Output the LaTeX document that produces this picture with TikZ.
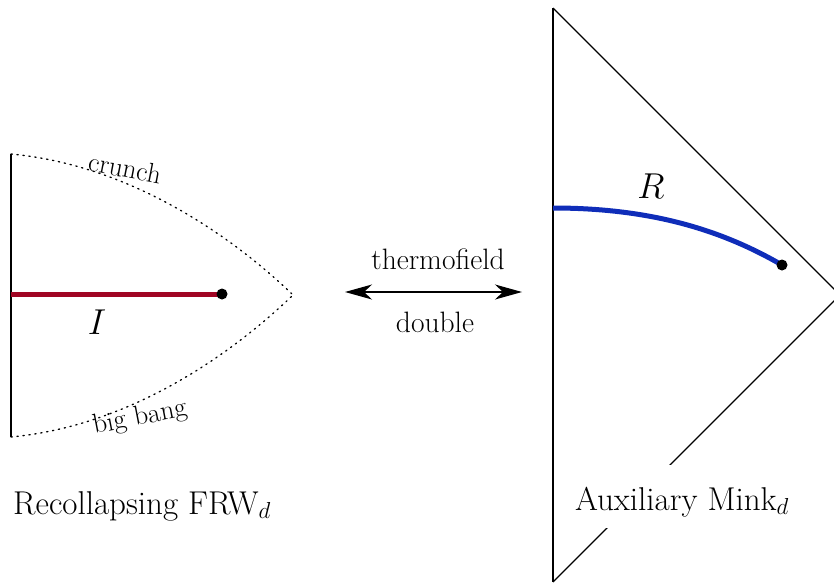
\documentclass[tikz,border=0pt]{standalone}
\usepackage{fix-cm}
\usetikzlibrary{arrows.meta}
\definecolor{myred}{RGB}{160,5,35}
\definecolor{myblue}{RGB}{15,45,185}
\begin{document}
\begin{tikzpicture}[x=1pt,y=-1pt,
  thinline/.style={line width=1.3pt},
  dotline/.style={line width=1.3pt, dash pattern=on 1.3pt off 4.7pt, line cap=round},
  thickred/.style={line width=5pt, myred},
  thickblue/.style={line width=5pt, myblue},
  bigtext/.style={font=\fontsize{33}{40}\selectfont, inner sep=0pt},
  smalltext/.style={font=\fontsize{29.5}{35}\selectfont, inner sep=0pt},
  tinytext/.style={font=\fontsize{27.5}{33}\selectfont, inner sep=0pt},
  mathlabel/.style={font=\fontsize{36}{42}\selectfont, inner sep=0pt},
  enddot/.style={fill=black}]
\clip (0,0) rectangle (834,584);

% ---------- left diagram ----------
\coordinate (Ltop) at (11,154);
\coordinate (Lbot) at (11,437);
\coordinate (Lmid) at (11,294);
\coordinate (Ltip) at (293,295);
\coordinate (Iend) at (222,294);
\draw[thinline] (Ltop) -- (Lbot);
\draw[dotline] (Ltop) .. controls (130,165) and (232,236) .. (Ltip);
\draw[dotline] (Lbot) .. controls (130,426) and (232,354) .. (Ltip);
\draw[thickred] (Lmid) -- (Iend);
\fill[enddot] (Iend) circle (5.5pt);
\node[mathlabel] (I) at (97,322) {$I$};
\node[tinytext, rotate=-11] (crunch) at (125,168) {crunch};
\node[tinytext, rotate=11] (bigbang) at (140,418) {big bang};
\node[bigtext, anchor=base] (frw) at (142,514) {Recollapsing FRW$_d$};

% ---------- middle arrow ----------
\coordinate (Aleft) at (345,292);
\coordinate (Aright) at (522,292);
\draw[thinline, {Stealth[length=27pt,width=15pt,inset=8pt]}-{Stealth[length=27pt,width=15pt,inset=8pt]}] (Aleft) -- (Aright);
\node[smalltext, anchor=base] (thermo) at (438,269) {thermofield};
\node[smalltext, anchor=base] (double) at (435,332) {double};

% ---------- right diagram ----------
\coordinate (Rtop) at (553,8);
\coordinate (Rbot) at (553,582);
\coordinate (Rtip) at (840,295);
\coordinate (Rstart) at (553,208);
\coordinate (Rend) at (782,265);
\draw[thinline] (Rtop) -- (Rbot);
\draw[thinline] (Rtop) -- (Rtip) -- (Rbot);
\draw[thickblue] (Rstart) .. controls (655,208) and (725,232) .. (Rend);
\fill[enddot] (Rend) circle (5.5pt);
\node[mathlabel] (R) at (651,186) {$R$};
\node[bigtext, anchor=base, fill=white, inner xsep=4pt, text height=45pt, text depth=18pt] (mink) at (682,510) {Auxiliary Mink$_d$};
\end{tikzpicture}
\end{document}
